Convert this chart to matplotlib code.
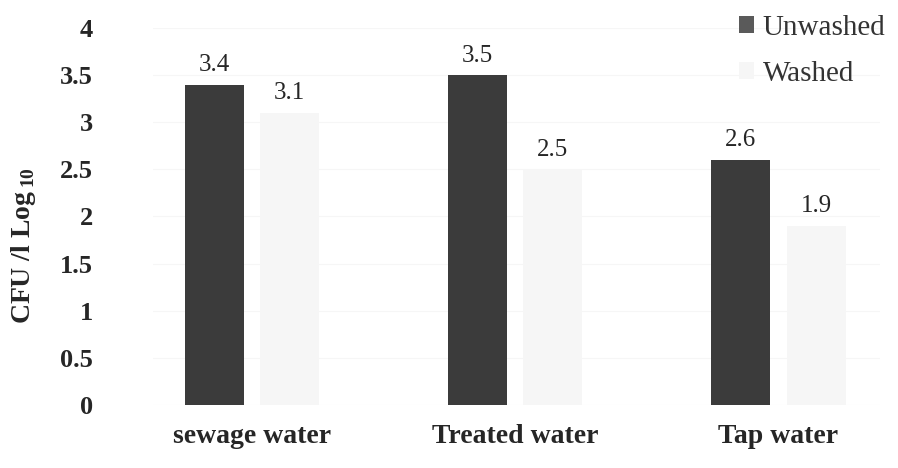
import numpy as np
import matplotlib
matplotlib.use("Agg")
import matplotlib.pyplot as plt
from matplotlib.patches import Patch

# data
categories = ["sewage water", "Treated water", "Tap water"]
unwashed = [3.4, 3.5, 2.6]
washed = [3.1, 2.5, 1.9]
y_ticks = [0, 0.5, 1, 1.5, 2, 2.5, 3, 3.5, 4]

plt.rcParams["font.family"] = ["Liberation Serif", "DejaVu Serif"]
plt.rcParams["mathtext.fontset"] = "custom"
plt.rcParams["mathtext.rm"] = "Liberation Serif"
plt.rcParams["mathtext.bf"] = "Liberation Serif:bold"

fig = plt.figure(figsize=(8.98, 4.68), dpi=100)
ax = fig.add_axes([0.17, 0.1346, 0.81, 0.8056])

x = np.arange(len(categories))
w = 0.224
off = 0.143
dark = "#3b3b3b"
light = "#f6f6f6"
txt = "#262626"

ax.bar(x - off, unwashed, w, color=dark, label="Unwashed", zorder=2)
ax.bar(x + off, washed, w, color=light, label="Washed", zorder=2)

# value labels above each bar
for xi, v in zip(x - off, unwashed):
    ax.text(xi, v + 0.09, f"{v:g}", ha="center", va="bottom", fontsize=18, color=txt)
for xi, v in zip(x + off, washed):
    ax.text(xi, v + 0.09, f"{v:g}", ha="center", va="bottom", fontsize=18, color=txt)

ax.set_xlim(-0.378, 2.386)
ax.set_ylim(0, 4)
ax.set_yticks(y_ticks)
ax.set_yticklabels([f"{t:g}" for t in y_ticks], fontsize=19, fontweight="bold", color=txt)
ax.set_xticks(x)
ax.set_xticklabels(categories, fontsize=20, fontweight="bold", color=txt)
ax.tick_params(axis="both", length=0)
ax.tick_params(axis="y", pad=43)
ax.tick_params(axis="x", pad=14)

ax.yaxis.grid(True, color="#f6f6f6", linewidth=0.8, zorder=0)
for s in ax.spines.values():
    s.set_visible(False)

ax.set_ylabel(r"CFU /l Log$_{\,\mathbf{10}}$", fontsize=20, fontweight="bold", color=txt)
ax.yaxis.set_label_coords(-0.158, 0.424)

handles = [Patch(facecolor="#5a5a5a", edgecolor="none"), Patch(facecolor=light, edgecolor="none")]
leg = fig.legend(handles, ["Unwashed", "Washed"], loc="upper right", bbox_to_anchor=(1.015, 1.025),
                 frameon=False, fontsize=21, handlelength=0.5, handleheight=0.5,
                 handletextpad=0.3, labelspacing=0.7)
for t in leg.get_texts():
    t.set_color("#333333")

fig.savefig("out.png", dpi=100, facecolor="white")
